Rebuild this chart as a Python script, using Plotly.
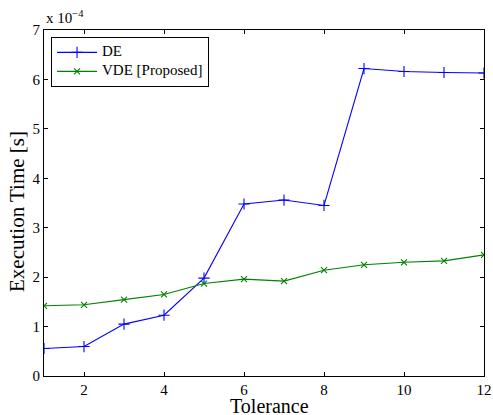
import plotly.graph_objects as go

tolerance = [1, 2, 3, 4, 5, 6, 7, 8, 9, 10, 11, 12]
de_time = [0.556, 0.596, 1.05, 1.23, 1.98, 3.48, 3.56, 3.45, 6.22, 6.16, 6.14, 6.13]
vde_time = [1.42, 1.44, 1.545, 1.65, 1.87, 1.96, 1.92, 2.14, 2.25, 2.30, 2.33, 2.45]
series_names = ["DE", "VDE [Proposed]"]
x_ticks = [2, 4, 6, 8, 10, 12]
y_ticks = [0, 1, 2, 3, 4, 5, 6, 7]

font = "Liberation Serif, Times New Roman, serif"


def legend_label(name):
    return f"<span style='font-size:15px'>{name}</span>"


fig = go.Figure()
fig.add_trace(go.Scatter(
    x=tolerance, y=de_time, mode="lines+markers", name=legend_label(series_names[0]),
    line=dict(color="#0000ff", width=1.1),
    marker=dict(symbol="cross-thin-open", size=8, line=dict(color="#0000ff", width=1.1)),
))
fig.add_trace(go.Scatter(
    x=tolerance, y=vde_time, mode="lines+markers", name=legend_label(series_names[1]),
    line=dict(color="#008000", width=1.1),
    marker=dict(symbol="x-thin-open", size=6, line=dict(color="#008000", width=1.1)),
))

axis_common = dict(
    showgrid=False, zeroline=False, showline=True, linecolor="black", linewidth=1.2,
    mirror="ticks", ticks="inside", ticklen=4, tickcolor="black", tickwidth=1,
    tickfont=dict(family=font, size=15, color="black"), automargin=False,
)
fig.update_xaxes(range=[1, 12], tickvals=x_ticks, **axis_common)
fig.update_yaxes(range=[0, 7], tickvals=y_ticks, **axis_common)

# axis titles
fig.add_annotation(x=0.5, y=0, xref="paper", yref="paper", xanchor="center", yanchor="middle",
                   text="Tolerance", showarrow=False, xshift=5, yshift=-30,
                   font=dict(family=font, size=20, color="black"))
fig.add_annotation(x=0, y=0.5, xref="paper", yref="paper", xanchor="center", yanchor="middle",
                   text="Execution Time [s]", showarrow=False, textangle=-90, xshift=-27, yshift=-9,
                   font=dict(family=font, size=21, color="black"))
# exponent label
fig.add_annotation(x=0, y=1, xref="paper", yref="paper", xanchor="left", yanchor="bottom",
                   text="x 10<sup>−4</sup>", showarrow=False, yshift=2,
                   font=dict(family=font, size=15, color="black"))

fig.update_layout(
    width=493, height=415,
    margin=dict(l=44, r=9, t=30, b=38.5),
    paper_bgcolor="white", plot_bgcolor="white",
    font=dict(family=font, size=15, color="black"),
    showlegend=True,
    hovermode=False,
    legend=dict(x=0.016, y=0.98, xanchor="left", yanchor="top",
                bordercolor="black", borderwidth=1, bgcolor="white",
                font=dict(family=font, size=10, color="black"),
                itemwidth=40, tracegroupgap=0),
)

# remove the default page margin so the figure fills the window exactly
fig.write_html(
    "out.html",
    config={"displayModeBar": False},
    post_script="document.body.style.margin='0';document.body.style.overflow='hidden';",
)
